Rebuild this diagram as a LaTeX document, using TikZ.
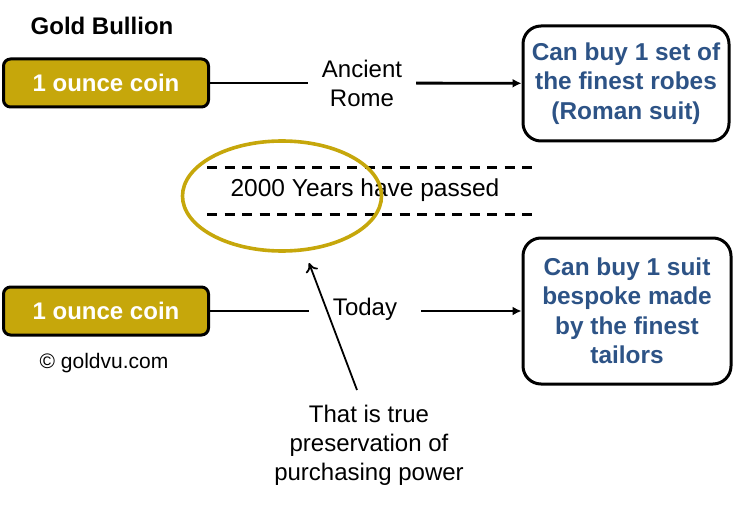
\documentclass[tikz,border=0pt]{standalone}
\usepackage{fontspec}
\setmainfont{Liberation Sans}
\usepackage{xcolor}
\usetikzlibrary{arrows.meta,calc,positioning,shapes.geometric}

\definecolor{coingold}{HTML}{C6A70B}
\definecolor{textblue}{HTML}{2D5386}

\begin{document}
\begin{tikzpicture}[x=1pt,y=-1pt,
  every node/.style={font=\fontsize{24}{29}\selectfont},
  coinbox/.style={draw, line width=3pt, rounded corners=7pt, fill=coingold,
    text=white, minimum width=205pt, minimum height=48pt,
    font=\fontsize{24}{29}\selectfont\bfseries},
  buybox/.style={draw, line width=3pt, rounded corners=18pt, align=center,
    text=textblue, font=\fontsize{24.4}{29.5}\selectfont\bfseries},
  era/.style={align=center, inner ysep=0pt},
  link/.style={line width=2.8pt, -{Latex[length=9pt,width=9pt]}}]
  \useasboundingbox (0,0) rectangle (744,505);

  \node[font=\fontsize{24}{29}\selectfont\bfseries] (title) at (102,26) {Gold Bullion};

  % ancient rome row
  \node[coinbox] (coinold) at (106,83) {1 ounce coin};
  \node[era, inner xsep=14pt] (rome) at (362,83) {Ancient\\Rome};
  \node[buybox, minimum width=206pt, minimum height=115pt] (robes) at (626,83.5)
    {Can buy 1 set of\\the finest robes\\(Roman suit)};
  \draw[link, -] (coinold) -- (rome);
  \draw[link] (rome) -- (robes);

  % time gap
  \coordinate (gapl) at (207,168);
  \coordinate (gapr) at (533,168);
  \draw[line width=3pt, dash pattern=on 10pt off 7.5pt] (gapl) -- (gapr);
  \draw[line width=3pt, dash pattern=on 10pt off 7.5pt] ($(gapl)+(0,47)$) -- ($(gapr)+(0,47)$);
  \node[font=\fontsize{24.5}{29}\selectfont] (passed) at (365,190) {2000 Years have passed};
  \node[ellipse, draw=coingold, line width=3.6pt, minimum width=199pt,
    minimum height=110pt] (ring) at (282,196) {};

  % today row
  \node[coinbox] (coinnew) at (106,311) {1 ounce coin};
  \node[era, inner xsep=24pt] (today) at (365,309) {Today};
  \node[buybox, minimum width=208pt, minimum height=146pt] (suit) at (627,311)
    {Can buy 1 suit\\bespoke made\\by the finest\\tailors};
  \draw[link, -] (coinnew) -- (today.west |- coinnew.east);
  \draw[link] (today.east |- coinnew.east) -- (suit);

  \node (copy) at (104,363) {\fontsize{21}{25}\selectfont\textcopyright{} goldvu.com};

  % comment
  \node[align=center] (truth) at (369,445)
    {That is true\\preservation of\\purchasing power};
  \coordinate (tail) at (357,390);
  \coordinate (tip) at (309,263);
  \draw[line width=1.8pt, -{To[length=9pt,width=13pt]}] (tail) -- (tip);
\end{tikzpicture}
\end{document}
